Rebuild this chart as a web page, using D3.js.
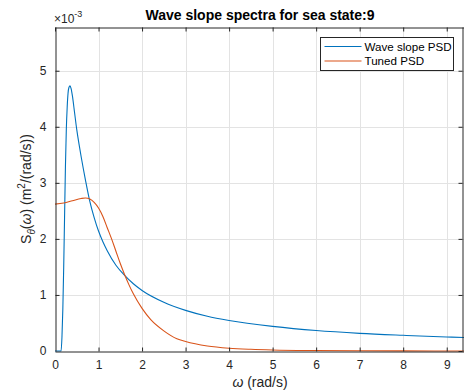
<!DOCTYPE html>
<html>
<head>
<meta charset="utf-8">
<script src="https://cdn.jsdelivr.net/npm/d3@7"></script>
<style>
  body { margin: 0; background: #fff; }
  svg { display: block; font-family: "Liberation Sans", Arial, sans-serif; }
</style>
</head>
<body>
<div id="chart"></div>
<script>
// values, S in units of 1e-3
const slopeOmega = [0, 0.1, 0.14, 0.16, 0.18, 0.2, 0.22, 0.24, 0.26, 0.28, 0.3, 0.32, 0.345, 0.37, 0.4, 0.45, 0.5, 0.55, 0.6, 0.7, 0.8, 0.9, 1.0, 1.1, 1.2, 1.4, 1.6, 1.8, 2.0, 2.5, 3, 3.5, 4, 5, 6, 7, 8, 9, 9.42];
const slopePsd = [0, 0, 0, 0.25, 0.75, 1.5, 2.4, 3.3, 3.95, 4.35, 4.6, 4.7, 4.73, 4.68, 4.55, 4.25, 3.95, 3.7, 3.47, 3.05, 2.67, 2.38, 2.14, 1.95, 1.79, 1.53, 1.35, 1.2, 1.08, 0.87, 0.725, 0.62, 0.545, 0.44, 0.365, 0.315, 0.28, 0.25, 0.24];

const tunedOmega = [0, 0.2, 0.4, 0.6, 0.7, 0.8, 0.9, 1.0, 1.1, 1.2, 1.3, 1.4, 1.5, 1.6, 1.7, 1.8, 2.0, 2.2, 2.5, 2.8, 3.0, 3.5, 4.0, 4.5, 5, 6, 7, 8, 9.42];
const tunedPsd = [2.62, 2.64, 2.68, 2.72, 2.73, 2.71, 2.65, 2.55, 2.4, 2.2, 2.0, 1.78, 1.56, 1.36, 1.18, 1.02, 0.76, 0.56, 0.36, 0.22, 0.17, 0.09, 0.05, 0.03, 0.018, 0.008, 0.004, 0.002, 0.001];

const xTicks = [0, 1, 2, 3, 4, 5, 6, 7, 8, 9];
const yTicks = [0, 1, 2, 3, 4, 5];
const seriesNames = ["Wave slope PSD", "Tuned PSD"];
const seriesColors = ["#0072BD", "#D95319"];

const width = 464, height = 392;
const margin = { top: 27, right: -1, bottom: 41, left: 55 };
const textColor = "#262626";

const svg = d3.select("#chart").append("svg")
  .attr("width", width)
  .attr("height", height);

const x = d3.scaleLinear()
  .domain([0, 9.42])
  .range([margin.left, width - margin.right]);

const y = d3.scaleLinear()
  .domain([0, 5.78])
  .range([height - margin.bottom, margin.top]);

const x0 = x.range()[0], x1 = x.range()[1];
const y0 = y.range()[0], y1 = y.range()[1];

// grid
const grid = svg.append("g").attr("stroke", "#e3e3e3").attr("stroke-width", 1);
grid.selectAll(".gx").data(xTicks.slice(1)).enter().append("line")
  .attr("x1", d => Math.round(x(d)) + 0.5).attr("x2", d => Math.round(x(d)) + 0.5)
  .attr("y1", y1).attr("y2", y0);
grid.selectAll(".gy").data(yTicks.slice(1)).enter().append("line")
  .attr("y1", d => Math.round(y(d)) + 0.5).attr("y2", d => Math.round(y(d)) + 0.5)
  .attr("x1", x0).attr("x2", x1);

// curves
const line = d3.line()
  .x(d => x(d[0]))
  .y(d => y(d[1]))
  .curve(d3.curveMonotoneX);

const series = [
  d3.zip(slopeOmega, slopePsd),
  d3.zip(tunedOmega, tunedPsd),
];

svg.selectAll(".series").data(series).enter().append("path")
  .attr("class", "series")
  .attr("fill", "none")
  .attr("stroke", (d, i) => seriesColors[i])
  .attr("stroke-width", 1.1)
  .attr("d", line);

// axes
const fmt = d3.format("d");

const xAxis = svg.append("g")
  .attr("transform", `translate(0,${Math.round(y0) + 0.5})`)
  .call(d3.axisBottom(x).tickValues(xTicks).tickFormat(fmt).tickSizeInner(-4).tickSizeOuter(0).tickPadding(9));

const xTop = svg.append("g")
  .attr("transform", `translate(0,${Math.round(y1) + 0.5})`)
  .call(d3.axisTop(x).tickValues(xTicks).tickSizeInner(-4).tickSizeOuter(0).tickFormat(""));

const yAxis = svg.append("g")
  .attr("transform", `translate(${Math.round(x0) + 0.5},0)`)
  .call(d3.axisLeft(y).tickValues(yTicks).tickFormat(fmt).tickSizeInner(-4).tickSizeOuter(0).tickPadding(9));

const yRight = svg.append("g")
  .attr("transform", `translate(${width - 1.5},0)`)
  .call(d3.axisRight(y).tickValues(yTicks).tickSizeInner(-4).tickSizeOuter(0).tickFormat(""));

[xAxis, xTop, yAxis, yRight].forEach(g => {
  g.select(".domain").attr("stroke", textColor).attr("stroke-width", 1);
  g.selectAll(".tick line").attr("stroke", textColor);
  g.selectAll(".tick text")
    .attr("fill", textColor)
    .style("font-size", "12px")
    .style("font-family", "'Liberation Sans', Arial, sans-serif");
});
xAxis.selectAll(".tick text").attr("dy", "0.71em");
xAxis.selectAll(".tick").filter(d => d === 0).select("line").remove();
yAxis.selectAll(".tick").filter(d => d === 0).select("line").remove();

// exponent label
const expo = svg.append("text")
  .attr("x", 54)
  .attr("y", 23)
  .attr("fill", textColor)
  .style("font-size", "12px");
expo.append("tspan").text("\u00d710");
expo.append("tspan").attr("dy", -6).style("font-size", "9px").text("-3");

// title
svg.append("text")
  .attr("x", (x0 + x1) / 2)
  .attr("y", 20)
  .attr("text-anchor", "middle")
  .attr("fill", "#000")
  .style("font-size", "14px")
  .style("font-weight", "bold")
  .text("Wave slope spectra for sea state:9");

// x label
const xl = svg.append("text")
  .attr("x", (x0 + x1) / 2)
  .attr("y", 387)
  .attr("text-anchor", "middle")
  .attr("fill", textColor)
  .style("font-size", "14px");
xl.append("tspan").style("font-style", "italic").text("\u03c9");
xl.append("tspan").text(" (rad/s)");

// y label
const yl = svg.append("text")
  .attr("transform", `translate(31,${(y0 + y1) / 2}) rotate(-90)`)
  .attr("text-anchor", "middle")
  .attr("fill", textColor)
  .style("font-size", "14px");
yl.append("tspan").text("S");
yl.append("tspan").attr("dy", 4).style("font-size", "10px").style("font-style", "italic").text("\u03b8");
yl.append("tspan").attr("dy", -4).text("(");
yl.append("tspan").style("font-style", "italic").text("\u03c9");
yl.append("tspan").text(") (m");
yl.append("tspan").attr("dy", -6).style("font-size", "10px").text("2");
yl.append("tspan").attr("dy", 6).text("/(rad/s))");

// legend
const legend = svg.append("g").attr("transform", "translate(320.5,37.5)");
legend.append("rect")
  .attr("width", 133)
  .attr("height", 33)
  .attr("fill", "#fff")
  .attr("stroke", textColor)
  .attr("stroke-width", 1);
const items = legend.selectAll(".item").data(seriesNames).enter().append("g")
  .attr("transform", (d, i) => `translate(0,${9 + i * 14.5})`);
items.append("line")
  .attr("x1", 4).attr("x2", 41)
  .attr("stroke", (d, i) => seriesColors[i])
  .attr("stroke-width", 1.1);
items.append("text")
  .attr("x", 44)
  .attr("dy", "0.35em")
  .attr("fill", "#000")
  .style("font-size", "11.6px")
  .text(d => d);
</script>
</body>
</html>
